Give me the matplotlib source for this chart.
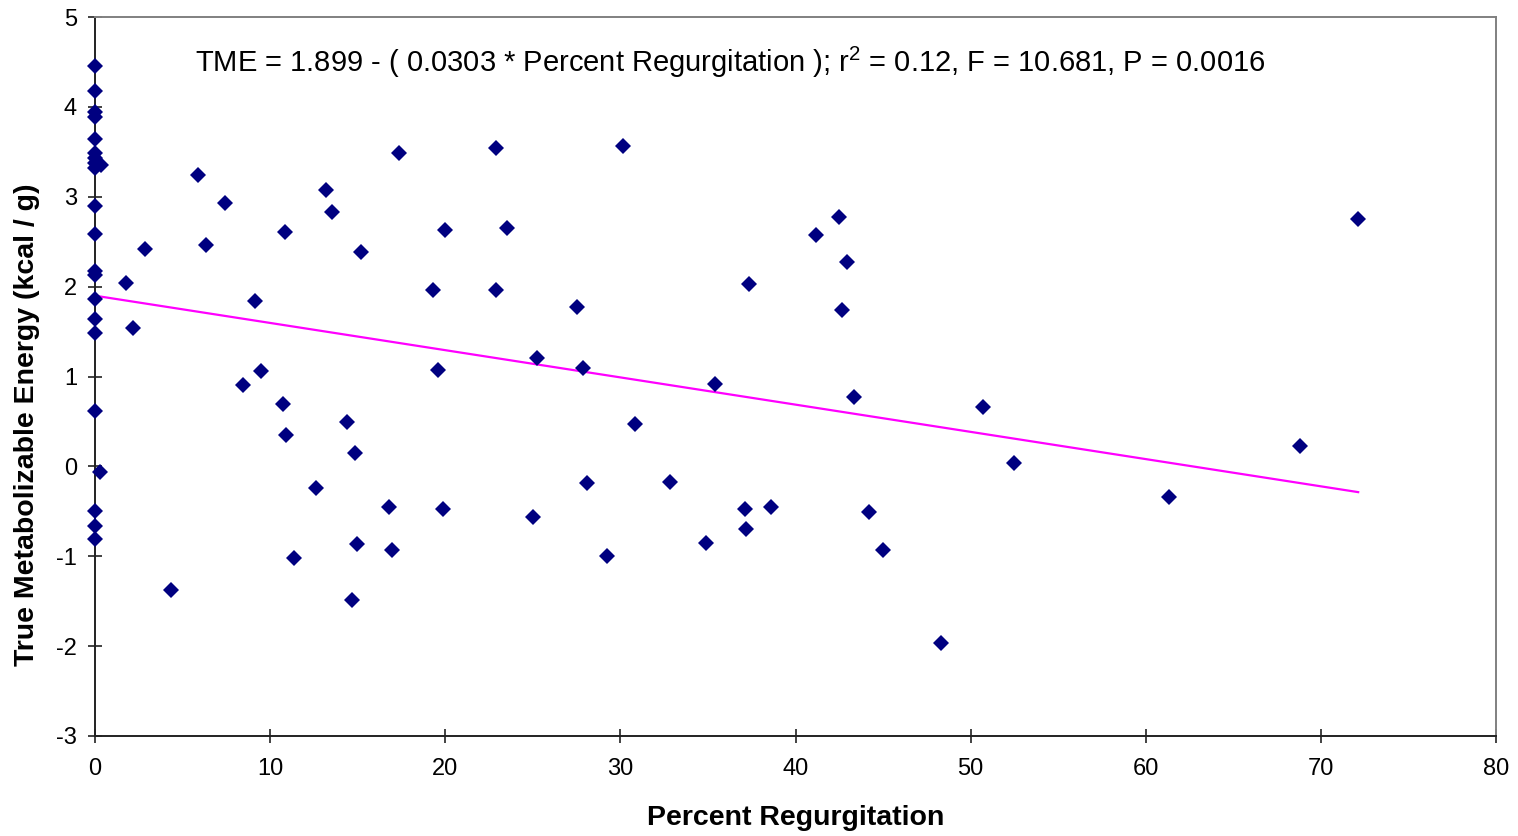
"""
TME vs percent regurgitation scatter with fitted regression line
"""

import matplotlib
matplotlib.use("Agg")
import matplotlib.pyplot as plt
import numpy as np

plt.rcParams['font.family'] = ['Liberation Sans', 'DejaVu Sans']
plt.rcParams['mathtext.fontset'] = 'custom'
plt.rcParams['mathtext.rm'] = 'Liberation Sans'
plt.rcParams['axes.unicode_minus'] = False

# Percent regurgitation (x) and true metabolizable energy (y)
pct_regurg = [
    0, 0, 0, 0, 0, 0, 0, 0, 0.35, 0, 0, 0, 0, 0, 0, 0, 0, 0, 0.3, 0, 0, 0,
    1.77, 2.86, 2.17, 4.34, 5.88, 6.34, 7.42, 8.45, 9.14, 9.48, 10.74, 10.85,
    10.91, 11.37, 12.62, 13.19, 13.54, 14.39, 14.68, 14.85, 14.96, 15.19,
    16.79, 16.96, 17.36, 19.30, 19.59, 19.87, 19.99, 22.90, 22.90, 23.53,
    25.01, 25.24, 27.53, 27.87, 28.10, 29.24, 30.15, 30.84, 32.84, 34.89,
    35.41, 37.12, 37.18, 37.35, 38.61, 41.18, 42.49, 42.66, 42.95, 43.35,
    44.20, 45.00, 48.31, 50.71, 52.48, 61.34, 68.82, 72.13,
]
tme = [
    4.46, 4.18, 3.94, 3.89, 3.64, 3.49, 3.43, 3.32, 3.35, 2.90, 2.59, 2.17,
    2.13, 1.86, 1.64, 1.48, 0.62, -0.50, -0.06, -0.66, -0.81, 3.37,
    2.04, 2.42, 1.54, -1.37, 3.24, 2.46, 2.93, 0.91, 1.84, 1.06, 0.69, 2.61,
    0.35, -1.02, -0.24, 3.08, 2.83, 0.49, -1.49, 0.15, -0.86, 2.38,
    -0.45, -0.93, 3.49, 1.96, 1.07, -0.47, 2.63, 3.54, 1.96, 2.65,
    -0.56, 1.21, 1.77, 1.09, -0.19, -1.00, 3.56, 0.47, -0.17, -0.85,
    0.92, -0.47, -0.70, 2.03, -0.45, 2.57, 2.77, 1.74, 2.27, 0.77,
    -0.51, -0.93, -1.97, 0.66, 0.04, -0.34, 0.23, 2.75,
]

# Regression coefficients quoted on the chart
intercept = 1.899
slope = -0.0303

x_ticks = [0, 10, 20, 30, 40, 50, 60, 70, 80]
y_ticks = [-3, -2, -1, 0, 1, 2, 3, 4, 5]


def create_chart():
    fig = plt.figure(figsize=(15.18, 8.36), dpi=100, facecolor='white')
    ax = fig.add_axes([95 / 1518, 100 / 836, 1401 / 1518, 719 / 836])

    # Regression line across the data range
    fit_x = np.array([min(pct_regurg), max(pct_regurg)])
    fit_y = intercept + slope * fit_x
    ax.plot(fit_x, fit_y, color='#FF00FF', linewidth=1.6, zorder=2)

    ax.plot(pct_regurg, tme, linestyle='none', marker='D', markersize=8.5,
            color='#000080', markeredgewidth=0, zorder=3, clip_on=False)

    ax.text(5.7, 4.5,
            "TME = 1.899 - ( 0.0303 * Percent Regurgitation ); r$^2$ = 0.12, "
            "F = 10.681, P = 0.0016",
            fontsize=21, color='black', ha='left', va='center')

    ax.set_xlim(0, 80)
    ax.set_ylim(-3, 5)
    ax.set_xticks(x_ticks)
    ax.set_yticks(y_ticks)

    ax.tick_params(direction='inout', length=10, width=1.2, colors='#222222',
                   labelsize=17, labelcolor='black')
    ax.tick_params(axis='x', pad=11)
    ax.tick_params(axis='y', pad=8)

    for side in ['left', 'bottom']:
        ax.spines[side].set_color('#222222')
        ax.spines[side].set_linewidth(1.4)
    for side in ['top', 'right']:
        ax.spines[side].set_color('#808080')
        ax.spines[side].set_linewidth(1.4)

    ax.set_xlabel("Percent Regurgitation", fontsize=20.5, fontweight='bold')
    ax.set_ylabel("True Metabolizable Energy (kcal / g)", fontsize=20.5,
                  fontweight='bold')
    ax.xaxis.set_label_coords(0.5, -0.096)
    ax.yaxis.set_label_coords(-0.039, 0.4325)

    return fig


def main():
    fig = create_chart()
    fig.savefig("out.png", dpi=100, facecolor='white')
    plt.close(fig)


if __name__ == "__main__":
    main()
